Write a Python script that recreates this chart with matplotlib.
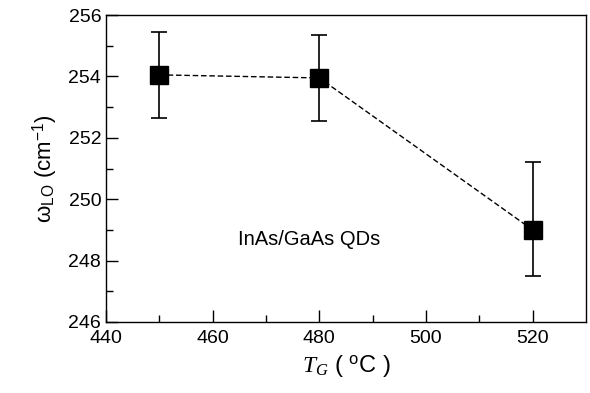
import matplotlib
matplotlib.use("Agg")
import matplotlib.pyplot as plt

plt.rcParams['font.family'] = ['Liberation Sans', 'DejaVu Sans']
plt.rcParams['mathtext.fontset'] = 'custom'
plt.rcParams['mathtext.rm'] = 'Liberation Sans'
plt.rcParams['mathtext.it'] = 'Liberation Serif:italic'

T = [450, 480, 520]
omega = [254.05, 253.95, 249.0]
err_low = [1.4, 1.4, 1.5]
err_high = [1.4, 1.4, 2.2]

fig = plt.figure(figsize=(5.9, 3.93), dpi=100)
ax = fig.add_axes([106/590, 1-322/393, 480/590, 307/393])
ax.errorbar(T, omega, yerr=[err_low, err_high], fmt='none', ecolor='black',
            elinewidth=1.2, capsize=6, capthick=1.2, zorder=2)
ax.plot(T, omega, linestyle='--', color='black', linewidth=1, dashes=(4, 2), zorder=3)
ax.plot(T, omega, linestyle='none', marker='s', markersize=13, color='black', zorder=4)

ax.set_xlim(440, 530)
ax.set_ylim(246, 256)
ax.set_xticks([440, 460, 480, 500, 520])
ax.set_xticks([450, 470, 490, 510], minor=True)
ax.set_yticks([246, 248, 250, 252, 254, 256])
ax.set_yticks([247, 249, 251, 253, 255], minor=True)
ax.tick_params(direction='in', which='major', length=8.5, width=1, labelsize=14, top=False, right=False)
ax.tick_params(direction='in', which='minor', length=5, width=1, top=False, right=False)
ax.tick_params(axis='x', pad=6)
for s in ax.spines.values():
    s.set_linewidth(1)

ax.set_xlabel(r'$T_G$' + ' ( ' + r'$^{\rm o}$' + 'C )', fontsize=17, labelpad=4)
ax.set_ylabel('ω' + r'$_{\rm LO}$ (cm$^{-1}$)', fontsize=16, labelpad=6)
ax.text(478, 248.7, 'InAs/GaAs QDs', fontsize=14.5, ha='center', va='center')

fig.savefig('out.png', dpi=100)
